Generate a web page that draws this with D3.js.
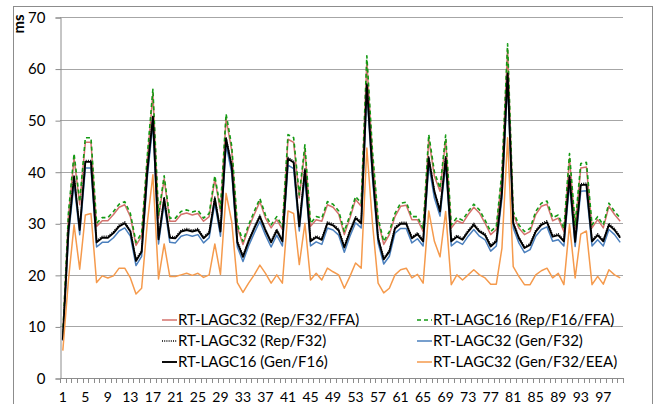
<!DOCTYPE html>
<html>
<head>
<meta charset="utf-8">
<script src="https://cdn.jsdelivr.net/npm/d3@7"></script>
<style>
  html, body { margin: 0; padding: 0; background: #fff; }
  svg { display: block; }
  text { font-family: Lato, "Open Sans", sans-serif; fill: #000; }
</style>
</head>
<body>
<svg id="chart" width="665" height="404"></svg>
<script>
// ---------- data ----------
const categories = Array.from({length: 100}, (_, i) => i + 1);
const xTickLabels = [1, 5, 9, 13, 17, 21, 25, 29, 33, 37, 41, 45, 49, 53, 57, 61, 65, 69, 73, 77, 81, 85, 89, 93, 97];
const yTicks = [0, 10, 20, 30, 40, 50, 60, 70];
const yTitle = "ms";

const seriesNames = [
  "RT-LAGC32 (Rep/F32/FFA)",
  "RT-LAGC16 (Rep/F16/FFA)",
  "RT-LAGC32 (Rep/F32)",
  "RT-LAGC32 (Gen/F32)",
  "RT-LAGC16 (Gen/F16)",
  "RT-LAGC32 (Gen/F32/EEA)"
];

const repF32FFA = [8.2,31.4,42.6,33.6,45.7,45.7,29.4,30.5,30.5,31.7,
  33.1,33.6,31.3,25.7,27.5,42.1,55.1,31,38.6,30.4,
  30.4,31.7,32,31.6,31.9,30.4,31.3,38.6,32.3,50.3,
  44.1,29.2,25.9,29.1,31.7,34.2,31,29.1,30.7,28.8,
  46.3,45.7,34.9,44.3,29.4,30.7,30.4,33.6,33.1,31.8,
  27.8,31,34.6,33.3,61.3,43.1,30.4,25.9,27.8,31.3,
  33.3,33.5,30.7,30.7,28.4,46.3,39.1,36.2,46.2,29.1,
  30.5,30,31.7,33.1,32,30,27.8,28.8,39.1,63.8,
  31.7,29.1,27.8,28.4,31.7,33.3,33.7,30.5,31,28.4,
  42.6,29.1,40.7,40.9,29.1,30.7,29.1,33.3,31.7,30.4];

const repF16FFA = [8.5,32,43.5,34.2,46.6,46.6,30,31.1,31.1,32.3,
  33.7,34.2,31.9,26.3,28.1,43,56,31.6,39.2,31,
  31,32.3,32.6,32.2,32.5,31,31.9,39.2,32.9,51.2,
  45,29.8,26.5,29.7,32.3,34.8,31.6,29.7,31.3,29.4,
  47.2,46.6,35.5,45.2,30,31.3,31,34.2,33.7,32.4,
  28.4,31.6,35.2,33.9,62.5,44,31,26.5,28.4,31.9,
  33.9,34.1,31.3,31.3,29,47.2,40,36.8,47.1,29.7,
  31.1,30.6,32.3,33.7,32.6,30.6,28.4,29.4,40,64.8,
  32.3,29.7,28.4,29,32.3,33.9,34.3,31.1,31.6,29,
  43.5,29.7,41.6,41.8,29.7,31.3,29.7,33.9,32.3,31];

const repF32 = [7.6,28.8,39.3,29,42.2,42.2,26.6,27.5,27.5,28.4,
  29.7,30.3,28.7,23,24.8,40.3,50.9,27.2,35.1,27.5,
  27.4,28.7,29,28.7,29,27.4,28.4,35.1,28.7,46.7,
  41.3,26.6,23.8,26.8,29.3,31.6,28.9,26.6,28.9,26.8,
  42.8,42.1,29.7,40.6,26.8,27.6,27.1,30.3,29.9,28.9,
  25.6,28.7,31.3,30.3,57.1,40.3,27.4,23.3,24.8,29.3,
  30.2,30.2,27.4,28.2,26.8,42.9,36.4,32.6,42.9,26.8,
  27.7,27.1,28.7,30,28.7,28,25.8,26.8,36.3,59.3,
  30.3,27.4,25.5,26.1,28.7,30,30.5,27.7,28,26.8,
  39.3,26.7,37.7,37.8,26.8,28,26.8,30,29,27.5];

const genF32 = [7.2,27.6,37.8,27.8,40.7,40.7,25.4,26.3,26.3,27.2,
  28.5,29.1,27.5,21.8,23.6,38.8,49.4,26,33.9,26.3,
  26.2,27.5,27.8,27.5,27.8,26.2,27.2,33.9,27.5,45.2,
  39.8,25.4,22.6,25.6,28.1,30.4,27.7,25.4,27.7,25.6,
  41.3,40.6,28.5,39.1,25.6,26.4,25.9,29.1,28.7,27.7,
  24.4,27.5,30.1,29.1,55.6,38.8,26.2,22.1,23.6,28.1,
  29,29,26.2,27,25.6,41.4,34.9,31.4,41.4,25.6,
  26.5,25.9,27.5,28.8,27.5,26.8,24.6,25.6,34.8,57.8,
  29.1,26.2,24.3,24.9,27.5,28.8,29.3,26.5,26.8,25.6,
  37.8,25.5,36.2,36.3,25.6,26.8,25.6,28.8,27.8,26.3];

const genF16 = [7.4,28.5,39,28.7,41.9,41.9,26.3,27.2,27.2,28.1,
  29.4,30,28.4,22.7,24.5,40,50.6,26.9,34.8,27.2,
  27.1,28.4,28.7,28.4,28.7,27.1,28.1,34.8,28.4,46.4,
  41,26.3,23.5,26.5,29,31.3,28.6,26.3,28.6,26.5,
  42.5,41.8,29.4,40.3,26.5,27.3,26.8,30,29.6,28.6,
  25.3,28.4,31,30,56.8,40,27.1,23,24.5,29,
  29.9,29.9,27.1,27.9,26.5,42.6,36.1,32.3,42.6,26.5,
  27.4,26.8,28.4,29.7,28.4,27.7,25.5,26.5,36,59,
  30,27.1,25.2,25.8,28.4,29.7,30.2,27.4,27.7,26.5,
  39,26.4,37.4,37.5,26.5,27.7,26.5,29.7,28.7,27.2];

const genF32EEA = [5.3,19,29.7,21.1,31.6,31.9,18.5,19.8,19.4,19.8,
  21.3,21.3,19.4,16.3,17.4,30,39.4,19.2,26,19.7,
  19.7,20,20.3,19.9,20.3,19.5,20,26,20.1,35.8,
  30.3,18.5,16.6,18.4,20,21.9,20.3,18.4,20,18.4,
  32.4,31.9,22,30,19,20.3,19,21.3,20.6,20,
  17.4,19.7,22.3,21.3,44.6,30,18.4,16.5,17.4,20,
  21,21.3,19.4,20.1,18.4,32.4,26.5,23.5,32.3,18.1,
  20,19,20,21,20,19.4,18.2,18.2,25.2,46.6,
  21.6,19.7,18.1,18.1,20,20.8,21.3,19.4,20.3,18.1,
  29.8,19.4,27.9,28.5,18.1,19.7,18.2,21,20,19.4];

// ---------- styles ----------
const styles = [
  {color: "#d4726d", width: 1.5, dash: null},
  {color: "#139a13", width: 1.6, dash: "4,3"},
  {color: "#000000", width: 1.3, dash: "1,1.2"},
  {color: "#4a7fbd", width: 1.5, dash: null},
  {color: "#000000", width: 1.9, dash: null},
  {color: "#f59a4c", width: 1.5, dash: null}
];
const seriesValues = [repF32FFA, repF16FFA, repF32, genF32, genF16, genF32EEA];

// ---------- layout ----------
const svg = d3.select("#chart");
const plotLeft = 60, plotRight = 623, plotTop = 17, plotBottom = 378;

// outer frame
svg.append("rect").attr("x", 13.5).attr("y", 6.5).attr("width", 639).attr("height", 430)
  .attr("fill", "none").attr("stroke", "#8c8c8c").attr("stroke-width", 1);

const x = d3.scaleBand().domain(categories).range([plotLeft, plotRight]).paddingInner(0).paddingOuter(0);
const cx = d => x(d) + x.bandwidth() / 2;
const y = d3.scaleLinear().domain([0, 70]).range([plotBottom, plotTop]);

// gridlines
svg.append("g").selectAll("line").data(yTicks.filter(t => t > 0)).join("line")
  .attr("x1", plotLeft).attr("x2", plotRight)
  .attr("y1", d => Math.round(y(d)) + 0.5).attr("y2", d => Math.round(y(d)) + 0.5)
  .attr("stroke", "#a6a6a6").attr("stroke-width", 1);

// y axis
const yAxis = d3.axisLeft(y).tickValues(yTicks).tickSize(5).tickPadding(10).tickFormat(d3.format("d"));
const gy = svg.append("g").attr("transform", `translate(${plotLeft + 0.5},0.5)`).call(yAxis);
gy.select(".domain").attr("stroke", "#8c8c8c");
gy.selectAll(".tick line").attr("stroke", "#8c8c8c");
gy.selectAll(".tick text").attr("font-size", 15).attr("font-family", "Lato, sans-serif").attr("fill", "#000");

// y title
svg.append("text").attr("transform", "translate(24,24) rotate(-90)")
  .attr("text-anchor", "middle").attr("font-size", 15).attr("font-weight", "bold").text(yTitle);

// x axis line and ticks between categories
const gx = svg.append("g");
gx.append("line").attr("x1", plotLeft).attr("x2", plotRight)
  .attr("y1", plotBottom + 0.5).attr("y2", plotBottom + 0.5).attr("stroke", "#8c8c8c");
const bounds = categories.map(c => x(c)).concat([plotRight]);
gx.selectAll("line.tk").data(bounds).join("line").attr("class", "tk")
  .attr("x1", d => Math.round(d) + 0.5).attr("x2", d => Math.round(d) + 0.5)
  .attr("y1", plotBottom).attr("y2", plotBottom + 5).attr("stroke", "#8c8c8c");
gx.selectAll("text").data(xTickLabels).join("text")
  .attr("x", d => cx(d)).attr("y", 402).attr("text-anchor", "middle")
  .attr("font-size", 14).text(d => d);

// lines
const line = d3.line().x((d, i) => cx(categories[i])).y(d => y(d));
seriesValues.forEach((vals, k) => {
  const s = styles[k];
  svg.append("path").datum(vals).attr("d", line)
    .attr("fill", "none").attr("stroke", s.color).attr("stroke-width", s.width)
    .attr("stroke-linejoin", "round")
    .attr("stroke-dasharray", s.dash);
});

// legend
const legendPos = [
  {x: 162, y: 320}, {x: 417, y: 320},
  {x: 162, y: 341}, {x: 417, y: 341},
  {x: 162, y: 362}, {x: 417, y: 362}
];
const lg = svg.append("g");
seriesNames.forEach((name, k) => {
  const p = legendPos[k], s = styles[k];
  lg.append("line").attr("x1", p.x).attr("x2", p.x + 15).attr("y1", p.y).attr("y2", p.y)
    .attr("stroke", s.color).attr("stroke-width", s.width).attr("stroke-dasharray", s.dash);
  lg.append("text").attr("x", p.x + 16).attr("y", p.y + 5).attr("font-size", 15).text(name);
});
</script>
</body>
</html>
